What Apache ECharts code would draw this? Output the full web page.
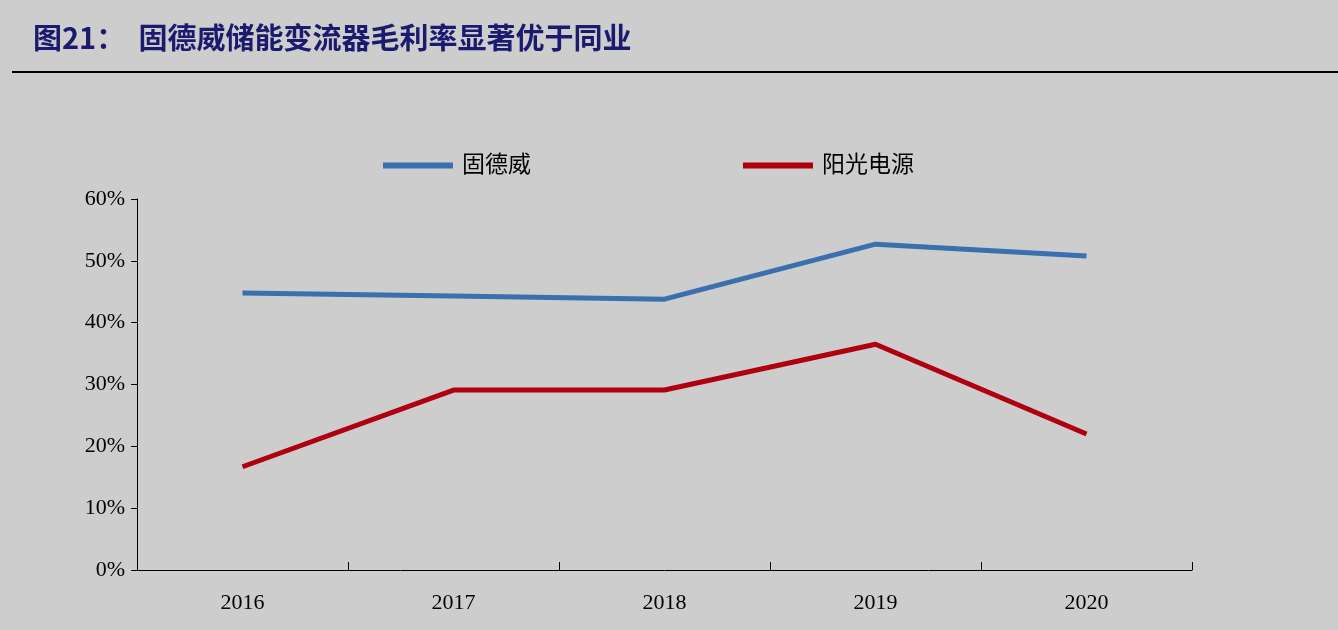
<!DOCTYPE html>
<html lang="en">
<head>
<meta charset="UTF-8">
<title>chart</title>
<script src="https://cdn.jsdelivr.net/npm/echarts@6/dist/echarts.min.js"></script>
<style>
html,body{margin:0;padding:0;background:#cdcdcd;}
#chart{width:1338px;height:630px;}
</style>
</head>
<body>
<div id="chart"></div>
<script>
var years = ['2016', '2017', '2018', '2019', '2020'];
var goodwe = [44.8, 44.3, 43.8, 52.7, 50.8];
var sungrow = [16.7, 29.1, 29.1, 36.5, 22.0];
var yTicks = [0, 10, 20, 30, 40, 50, 60];

var myChart = echarts.init(document.getElementById('chart'));
var serif = '"Liberation Serif", "Noto Sans CJK SC", serif';
myChart.setOption({
    backgroundColor: '#cdcdcd',
    title: {
        text: '图21：  固德威储能变流器毛利率显著优于同业',
        left: 28, top: 18,
        textStyle: {color: '#1a1a6e', fontSize: 29, fontWeight: 'bold', fontFamily: '"Noto Sans CJK SC", serif'}
    },
    graphic: [{
        type: 'line', shape: {x1: 12, y1: 72, x2: 1338, y2: 72},
        style: {stroke: '#000', lineWidth: 2}
    }],
    legend: {
        top: 149, left: 378, itemGap: 212, itemWidth: 70, itemHeight: 6,
        icon: 'rect',
        textStyle: {fontSize: 23, color: '#000', fontFamily: serif, padding: [0, 0, 0, 4]}
    },
    grid: {left: 137, right: 146, top: 199, bottom: 60},
    xAxis: {
        type: 'category', data: years, boundaryGap: true,
        axisLine: {lineStyle: {color: '#000'}},
        axisTick: {show: true, length: 8, inside: true, lineStyle: {color: '#000'}},
        axisLabel: {fontSize: 22, color: '#000', margin: 22, fontFamily: serif}
    },
    yAxis: {
        type: 'value', min: yTicks[0], max: yTicks[yTicks.length - 1], interval: 10,
        axisLine: {show: true, lineStyle: {color: '#000'}},
        axisTick: {show: true, length: 6, lineStyle: {color: '#000'}},
        splitLine: {show: false},
        axisLabel: {fontSize: 22, color: '#000', margin: 12, fontFamily: serif, formatter: '{value}%'}
    },
    series: [
        {name: '固德威', type: 'line', data: goodwe, symbol: 'none',
         lineStyle: {width: 5, color: '#3a6fb0'}, itemStyle: {color: '#3a6fb0'}},
        {name: '阳光电源', type: 'line', data: sungrow, symbol: 'none',
         lineStyle: {width: 5, color: '#b00010'}, itemStyle: {color: '#b00010'}}
    ]
});
</script>
</body>
</html>
